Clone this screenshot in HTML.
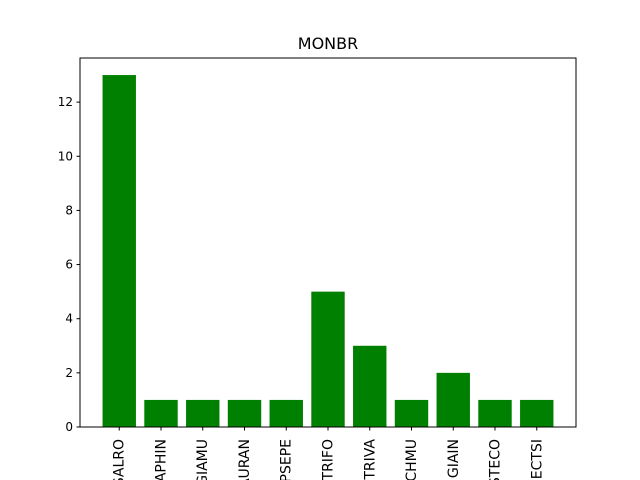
<!DOCTYPE html>
<html><head><meta charset="utf-8"><style>
body{margin:0;background:#fff;}
svg{display:block;font-family:"DejaVu Sans","Liberation Sans",sans-serif;}
</style></head><body>
<svg id="chart" width="640" height="480" viewBox="0 0 640 480">
<rect width="640" height="480" fill="#fff"/>
<text x="328" y="49" font-size="16" text-anchor="middle">MONBR</text>
<g id="bars"></g>
<g id="axes"></g>
</svg>
<script>
const categories = ["SALRO","APHIN","GIAMU","AURAN","PSEPE","TRIFO","TRIVA","SCHMU","GIAIN","STECO","ECTSI"];
const values = [13,1,1,1,1,5,3,1,2,1,1];
const yTicks = [0,2,4,6,8,10,12];

const L=80,R=576,T=58,B=427;
const yMax=13.63;
const xMin=-0.94,xMax=categories.length-1+0.94;
const xs=v=>L+(v-xMin)/(xMax-xMin)*(R-L);
const ys=v=>B-v/yMax*(B-T);
const NS="http://www.w3.org/2000/svg";
const bars=document.getElementById('bars'),axes=document.getElementById('axes');
function mk(tag,attrs,parent){const e=document.createElementNS(NS,tag);for(const k in attrs)e.setAttribute(k,attrs[k]);parent.appendChild(e);return e;}
const bw=(xs(0.8)-xs(0));
values.forEach((v,i)=>{
  const r=mk('rect',{x:xs(i)-bw/2,y:ys(v),width:bw,height:ys(0)-ys(v),fill:'#008000'},bars);
  
  
});
const frame=mk('rect',{x:L,y:T,width:R-L,height:B-T,fill:'none',stroke:'#000','stroke-width':1},axes);


yTicks.forEach(t=>{
  const y=ys(t);
  mk('line',{x1:L-3.5,x2:L,y1:y,y2:y,stroke:'#000'},axes);
  const tx=mk('text',{x:L-7,y:y+4,'font-size':12,'text-anchor':'end'},axes);
  tx.textContent=t;
  
  
});
categories.forEach((c,i)=>{
  const x=xs(i);
  mk('line',{x1:x,x2:x,y1:B,y2:B+3.5,stroke:'#000'},axes);
  const tx=mk('text',{x:0,y:0,'font-size':14,'text-anchor':'end',transform:`translate(${x+4.5},${B+12}) rotate(-90)`},axes);
  tx.textContent=c;
  
  
});
</script>
</body></html>
